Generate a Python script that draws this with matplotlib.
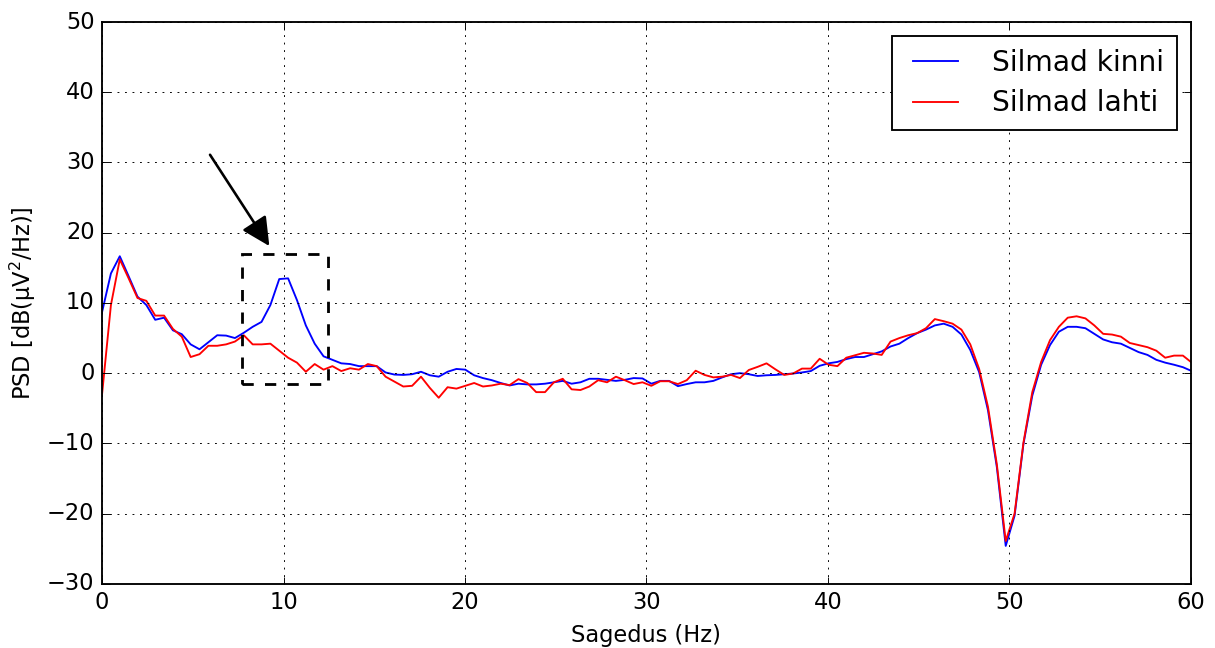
import matplotlib
matplotlib.use('Agg')
import matplotlib.pyplot as plt
import numpy as np
from matplotlib.patches import Rectangle

# Welch PSD, fs = 500 Hz, nfft = 1024
FREQ_STEP = 500 / 1024

silmad_kinni = [
    8.7, 14.2, 16.65, 13.8, 10.9, 9.7, 7.6, 7.9, 6.1, 5.55,
    4.1, 3.4, 4.4, 5.4, 5.35, 5.0, 5.75, 6.6, 7.3, 9.7,
    13.4, 13.5, 10.4, 6.8, 4.2, 2.4, 1.9, 1.4, 1.3, 1.0,
    1.0, 1.0, 0.1, -0.2, -0.25, -0.15, 0.2, -0.3, -0.5, 0.2,
    0.6, 0.5, -0.3, -0.7, -1.0, -1.4, -1.75, -1.5, -1.6, -1.6,
    -1.5, -1.3, -1.1, -1.5, -1.3, -0.8, -0.8, -0.95, -1.1, -0.95,
    -0.7, -0.75, -1.5, -1.1, -1.1, -1.85, -1.55, -1.3, -1.3, -1.1,
    -0.6, -0.15, 0.0, -0.15, -0.4, -0.3, -0.25, -0.15, -0.05, 0.1,
    0.3, 1.05, 1.4, 1.6, 2.0, 2.3, 2.3, 2.7, 3.1, 3.8,
    4.2, 5.0, 5.7, 6.2, 6.8, 7.05, 6.6, 5.5, 3.3, 0.15,
    -5.3, -13.4, -24.6, -20.3, -10.1, -3.2, 1.2, 4.0, 5.9, 6.6,
    6.6, 6.4, 5.6, 4.8, 4.4, 4.2, 3.6, 3.0, 2.6, 1.9,
    1.5, 1.2, 0.85, 0.3,
]

silmad_lahti = [
    -3.0, 9.7, 16.2, 13.5, 10.7, 10.3, 8.2, 8.2, 6.3, 5.2,
    2.3, 2.7, 3.9, 3.9, 4.1, 4.5, 5.4, 4.1, 4.1, 4.2,
    3.2, 2.2, 1.5, 0.2, 1.3, 0.5, 1.0, 0.3, 0.7, 0.5,
    1.3, 1.0, -0.5, -1.2, -1.9, -1.8, -0.5, -2.1, -3.5, -2.0,
    -2.2, -1.8, -1.4, -1.9, -1.75, -1.5, -1.7, -0.85, -1.4, -2.7,
    -2.7, -1.3, -0.8, -2.3, -2.4, -1.9, -1.0, -1.3, -0.5, -1.0,
    -1.55, -1.3, -1.8, -1.15, -1.15, -1.55, -1.0, 0.35, -0.25, -0.6,
    -0.5, -0.25, -0.7, 0.45, 0.9, 1.4, 0.55, -0.25, -0.05, 0.65,
    0.65, 2.05, 1.2, 1.0, 2.2, 2.55, 2.9, 2.8, 2.6, 4.5,
    5.0, 5.4, 5.7, 6.4, 7.7, 7.4, 7.05, 6.2, 4.1, 0.6,
    -4.8, -13.0, -23.9, -20.0, -9.9, -2.7, 1.6, 4.7, 6.6, 7.9,
    8.1, 7.8, 6.8, 5.6, 5.5, 5.2, 4.3, 4.0, 3.7, 3.2,
    2.2, 2.5, 2.5, 1.5,
]

# alpha band box and arrow pointing at it
alpha_box = (7.73, -1.57, 12.43, 16.9)
arrow_tail = (5.95, 31.1)
arrow_tip = (9.22, 18.1)

plt.style.use('classic')
plt.rcParams['mathtext.default'] = 'regular'

freqs = np.arange(len(silmad_kinni)) * FREQ_STEP

fig = plt.figure(figsize=(9, 4.8), dpi=135, facecolor='white')
ax = fig.add_axes([0.084, 0.099, 0.896, 0.867])

ax.plot(freqs, silmad_kinni, color='b', lw=1.0, label='Silmad kinni')
ax.plot(freqs, silmad_lahti, color='r', lw=1.0, label='Silmad lahti')

x0, y0, x1, y1 = alpha_box
ax.add_patch(Rectangle((x0, y0), x1 - x0, y1 - y0, fill=False,
                       ls='--', lw=1.5, ec='black', zorder=3))
ax.annotate('', xy=arrow_tip, xytext=arrow_tail,
            arrowprops=dict(arrowstyle='-|>', color='black', lw=1.4,
                            mutation_scale=32, shrinkA=0, shrinkB=0))

ax.set_xlim(0, 60)
ax.set_ylim(-30, 50)
ax.set_xticks(np.arange(0, 61, 10))
ax.set_yticks(np.arange(-30, 51, 10))
ax.grid(True)
ax.set_xlabel('Sagedus (Hz)')
ax.set_ylabel('PSD [dB(µV$^2$/Hz)]')

ax.legend(loc='upper right', fontsize=15, handlelength=2.2,
          handletextpad=0.9, borderpad=0.45, labelspacing=0.45,
          borderaxespad=0.5, numpoints=2)

fig.savefig('out.png', dpi=135, facecolor='white')
